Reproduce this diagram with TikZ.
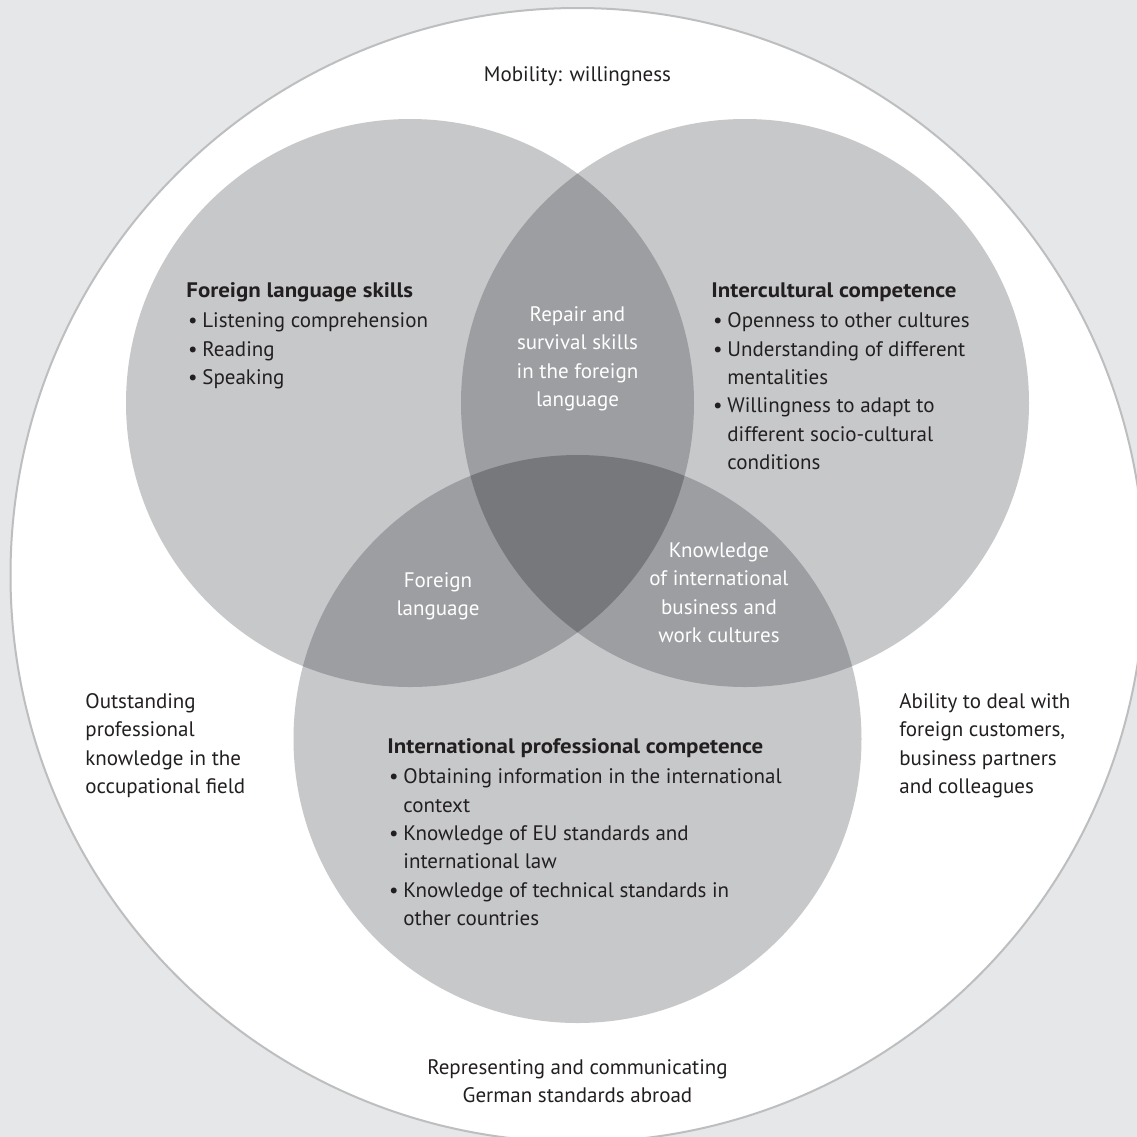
\documentclass[tikz,border=0pt]{standalone}
\usepackage{fontspec}
\setmainfont{PT Sans}[BoldFeatures={FakeStretch=1.09}]
\definecolor{bgc}{HTML}{E6E7E8}
\definecolor{ring}{HTML}{BCBEC0}
\definecolor{one}{HTML}{C7C8CA}
\definecolor{two}{HTML}{9D9EA1}
\definecolor{three}{HTML}{77787B}
\definecolor{txtc}{HTML}{231F20}
\newcommand{\bu}{\makebox[8pt][l]{\hspace{0.8pt}•}}
\newcommand{\hi}{\hspace*{8pt}}
\tikzset{
  txt/.style={inner sep=0pt, font=\fontsize{10.5}{14.2}\selectfont, text=txtc},
  lblock/.style={txt, align=left, anchor=north west},
  cblock/.style={txt, align=center, anchor=north},
  wblock/.style={cblock, text=white}
}
\begin{document}
\begin{tikzpicture}[x=0.5pt,y=-0.5pt]
\useasboundingbox (0,0) rectangle (1137,1137);
\clip (0,0) rectangle (1137,1137);
\fill[bgc] (0,0) rectangle (1137,1137);
% outer circle
\fill[white] (577.5,575) circle[radius=283.5pt];
\draw[ring, line width=1pt] (577.5,575) circle[radius=283.5pt];
% three circles
\coordinate (A) at (410,403);
\coordinate (B) at (745,403);
\coordinate (C) at (577.5,739);
\fill[one] (A) circle[radius=142pt];
\fill[one] (B) circle[radius=142pt];
\fill[one] (C) circle[radius=142pt];
\begin{scope}
  \clip (A) circle[radius=142pt];
  \fill[two] (B) circle[radius=142pt];
  \fill[two] (C) circle[radius=142pt];
\end{scope}
\begin{scope}
  \clip (B) circle[radius=142pt];
  \fill[two] (C) circle[radius=142pt];
\end{scope}
\begin{scope}
  \clip (A) circle[radius=142pt];
  \clip (B) circle[radius=142pt];
  \fill[three] (C) circle[radius=142pt];
\end{scope}
% texts
\node[txt, anchor=base] (mob) at (577.5,81) {Mobility: willingness};
\node[lblock] (fls) at (186,277.1) {\strut\textbf{Foreign language skills}\\[1pt]
  \bu Listening comprehension\\
  \bu Reading\\
  \bu Speaking};
\node[lblock] (ic) at (711,277.1) {\strut\textbf{Intercultural competence}\\[1pt]
  \bu Openness to other cultures\\
  \bu Understanding of different\\
  \hi mentalities\\
  \bu Willingness to adapt to\\
  \hi different socio-cultural\\
  \hi conditions};
\node[lblock] (ipc) at (387,733.1) {\strut\textbf{International professional competence}\\[1pt]
  \bu Obtaining information in the international\\
  \hi context\\
  \bu Knowledge of EU standards and\\
  \hi international law\\
  \bu Knowledge of technical standards in\\
  \hi other countries};
\node[wblock] (rep) at (577.5,301.1) {\strut Repair and\\ survival skills\\ in the foreign\\ language};
\node[wblock] (fl) at (438,566.8) {\strut Foreign\\ language};
\node[wblock] (kn) at (719,537.1) {\strut Knowledge\\ of international\\ business and\\ work cultures};
\node[lblock] (out) at (85,688.1) {\strut Outstanding\\ professional\\ knowledge in the\\ occupational field};
\node[lblock] (abil) at (899,688.1) {\strut Ability to deal with\\ foreign customers,\\ business partners\\ and colleagues};
\node[cblock] (repr) at (577.5,1054.1) {\strut Representing and communicating\\ German standards abroad};
\end{tikzpicture}
\end{document}
